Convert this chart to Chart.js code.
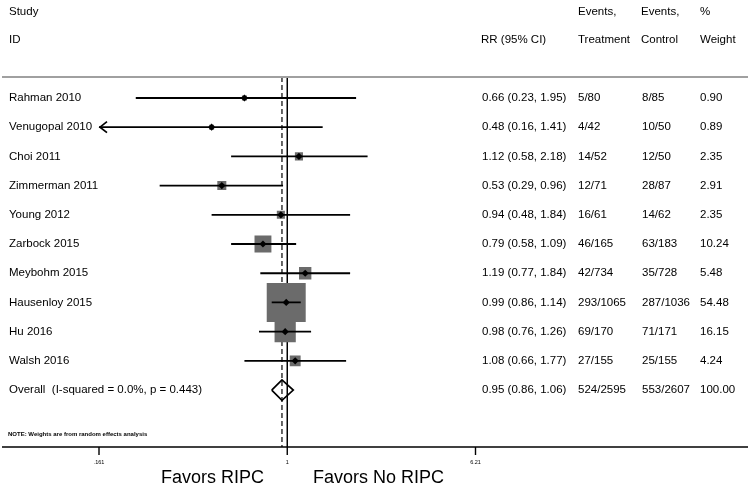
<!DOCTYPE html>
<html>
<head>
<meta charset="utf-8">
<script src="https://cdn.jsdelivr.net/npm/chart.js@4"></script>
<style>
  html, body { margin: 0; padding: 0; background: #fff; }
  #wrap { width: 750px; height: 491px; position: relative; }
</style>
</head>
<body>
<div id="wrap"><canvas id="chart"></canvas></div>
<script>
const studies = ['Rahman 2010', 'Venugopal 2010', 'Choi 2011', 'Zimmerman 2011', 'Young 2012',
  'Zarbock 2015', 'Meybohm 2015', 'Hausenloy 2015', 'Hu 2016', 'Walsh 2016'];
const rr = [0.66, 0.48, 1.12, 0.53, 0.94, 0.79, 1.19, 0.99, 0.98, 1.08];
const lower = [0.23, 0.16, 0.58, 0.29, 0.48, 0.58, 0.77, 0.86, 0.76, 0.66];
const upper = [1.95, 1.41, 2.18, 0.96, 1.84, 1.09, 1.84, 1.14, 1.26, 1.77];
const treatment = ['5/80', '4/42', '14/52', '12/71', '16/61', '46/165', '42/734', '293/1065', '69/170', '27/155'];
const control = ['8/85', '10/50', '12/50', '28/87', '14/62', '63/183', '35/728', '287/1036', '71/171', '25/155'];
const weights = [0.90, 0.89, 2.35, 2.91, 2.35, 10.24, 5.48, 54.48, 16.15, 4.24];

const overallLabel = 'Overall  (I-squared = 0.0%, p = 0.443)';
const overall = { rr: 0.95, lower: 0.86, upper: 1.06, treatment: '524/2595', control: '553/2607', weight: '100.00' };

const xTicks = [0.161, 1, 6.21];
const xTickLabels = ['.161', '1', '6.21'];

const X_MIN = 0.161;
const X_MAX = 6.21;
const Y_MIN = -0.719;
const Y_MAX = 11.95;
const FONT = '"Liberation Sans", Arial, sans-serif';

const ciData = [];
studies.forEach((s, i) => {
  ciData.push({ x: lower[i], y: i }, { x: upper[i], y: i }, { x: null, y: null });
});
const overallRow = studies.length;
const diamond = [
  { x: overall.lower, y: overallRow },
  { x: overall.rr, y: overallRow - 0.35 },
  { x: overall.upper, y: overallRow },
  { x: overall.rr, y: overallRow + 0.35 },
  { x: overall.lower, y: overallRow }
];

const fmt = v => v.toFixed(2);

const forestText = {
  id: 'forestText',
  afterDraw(chart) {
    const { ctx, scales: { x, y } } = chart;
    ctx.save();
    // top rule
    ctx.strokeStyle = '#a0a0a0';
    ctx.lineWidth = 2;
    ctx.beginPath();
    ctx.moveTo(2, 77);
    ctx.lineTo(748, 77);
    ctx.stroke();
    // axis
    ctx.strokeStyle = '#000';
    ctx.lineWidth = 1.4;
    ctx.beginPath();
    ctx.moveTo(2, 447);
    ctx.lineTo(748, 447);
    ctx.stroke();
    ctx.fillStyle = '#000';
    ctx.font = '5.5px ' + FONT;
    ctx.textAlign = 'center';
    ctx.textBaseline = 'middle';
    xTicks.forEach((t, i) => {
      const px = x.getPixelForValue(t);
      ctx.beginPath();
      ctx.moveTo(px, 447);
      ctx.lineTo(px, 455);
      ctx.stroke();
      ctx.fillText(xTickLabels[i], px, 462);
    });

    // arrow for truncated CI
    studies.forEach((s, i) => {
      if (lower[i] < X_MIN) {
        const px = x.getPixelForValue(X_MIN) + 1;
        const py = y.getPixelForValue(i);
        ctx.lineWidth = 1.7;
        ctx.beginPath();
        ctx.moveTo(px + 7, py - 5.5);
        ctx.lineTo(px, py);
        ctx.lineTo(px + 7, py + 5.5);
        ctx.stroke();
      }
    });

    // headers
    ctx.textAlign = 'left';
    ctx.font = '11.5px ' + FONT;
    ctx.fillText('Study', 9, 12);
    ctx.fillText('ID', 9, 40);
    ctx.fillText('RR (95% CI)', 481, 40);
    ctx.fillText('Events,', 578, 12);
    ctx.fillText('Treatment', 578, 40);
    ctx.fillText('Events,', 641, 12);
    ctx.fillText('Control', 641, 40);
    ctx.fillText('%', 700, 12);
    ctx.fillText('Weight', 700, 40);

    // rows
    studies.forEach((s, i) => {
      const py = y.getPixelForValue(i);
      ctx.fillText(s, 9, py);
      ctx.fillText(`${fmt(rr[i])} (${fmt(lower[i])}, ${fmt(upper[i])})`, 482, py);
      ctx.fillText(treatment[i], 578, py);
      ctx.fillText(control[i], 642, py);
      ctx.fillText(fmt(weights[i]), 700, py);
    });
    const oy = y.getPixelForValue(overallRow);
    ctx.fillText(overallLabel, 9, oy);
    ctx.fillText(`${fmt(overall.rr)} (${fmt(overall.lower)}, ${fmt(overall.upper)})`, 482, oy);
    ctx.fillText(overall.treatment, 578, oy);
    ctx.fillText(overall.control, 642, oy);
    ctx.fillText(overall.weight, 700, oy);

    ctx.font = 'bold 6px ' + FONT;
    ctx.fillText('NOTE: Weights are from random effects analysis', 8, 434);

    ctx.font = '18px ' + FONT;
    ctx.fillText('Favors RIPC', 161, 478);
    ctx.fillText('Favors No RIPC', 313, 478);
    ctx.restore();
  }
};

new Chart(document.getElementById('chart'), {
  type: 'scatter',
  data: {
    datasets: [{
      label: 'estimate',
      data: rr.map((v, i) => ({ x: v, y: i })),
      pointStyle: 'rectRot',
      pointRadius: 3.6,
      backgroundColor: '#000',
      borderWidth: 0
    }, {
      label: 'ci',
      data: ciData,
      showLine: true,
      spanGaps: false,
      borderColor: '#000',
      borderWidth: 1.8,
      pointRadius: 0
    }, {
      label: 'weight',
      data: rr.map((v, i) => ({ x: v, y: i })),
      pointStyle: 'rect',
      pointRadius: weights.map(w => 5.28 * Math.sqrt(w) / 1.414),
      backgroundColor: '#6b6b6b',
      borderWidth: 0
    }, {
      label: 'overall',
      data: diamond,
      showLine: true,
      borderColor: '#000',
      borderWidth: 1.7,
      pointRadius: 0,
      fill: false
    }, {
      label: 'null',
      data: [{ x: 1, y: Y_MIN }, { x: 1, y: Y_MAX }],
      showLine: true,
      borderColor: '#000',
      borderWidth: 1.5,
      pointRadius: 0
    }, {
      label: 'pooled',
      data: [{ x: overall.rr, y: Y_MIN }, { x: overall.rr, y: Y_MAX }],
      showLine: true,
      borderColor: '#000',
      borderWidth: 1.2,
      borderDash: [5, 3],
      pointRadius: 0
    }]
  },
  options: {
    responsive: true,
    maintainAspectRatio: false,
    animation: false,
    events: [],
    layout: {
      padding: { left: 99, right: 274.5, top: 77, bottom: 44 }
    },
    scales: {
      x: { type: 'logarithmic', min: X_MIN, max: X_MAX, display: false },
      y: { type: 'linear', min: Y_MIN, max: Y_MAX, reverse: true, display: false }
    },
    plugins: {
      legend: { display: false },
      tooltip: { enabled: false }
    }
  },
  plugins: [forestText]
});
</script>
</body>
</html>
